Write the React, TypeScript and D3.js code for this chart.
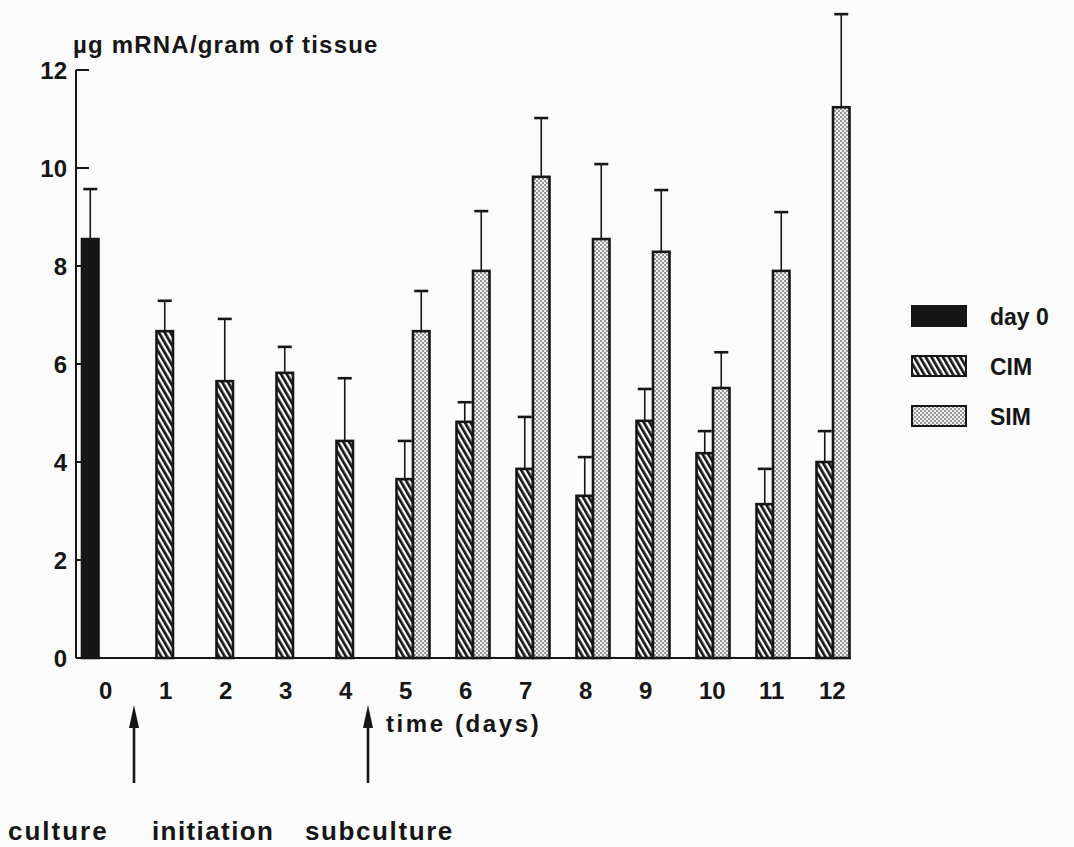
import React from "react";
import * as d3 from "d3";

// values (µg mRNA / gram of tissue)
const days = [0, 1, 2, 3, 4, 5, 6, 7, 8, 9, 10, 11, 12];
const day0Value = 8.55;
const day0Err = 1.02;
const cimDays = [1, 2, 3, 4, 5, 6, 7, 8, 9, 10, 11, 12];
const cimValues = [6.67, 5.65, 5.82, 4.43, 3.65, 4.82, 3.86, 3.31, 4.84, 4.18, 3.14, 4.0];
const cimErrors = [0.62, 1.27, 0.53, 1.28, 0.78, 0.4, 1.06, 0.79, 0.65, 0.45, 0.72, 0.63];
const simDays = [5, 6, 7, 8, 9, 10, 11, 12];
const simValues = [6.67, 7.9, 9.82, 8.55, 8.29, 5.51, 7.9, 11.24];
const simErrors = [0.82, 1.22, 1.2, 1.53, 1.26, 0.73, 1.2, 1.9];
const yTicks = [0, 2, 4, 6, 8, 10, 12];
const legendItems = ["day 0", "CIM", "SIM"];
const arrowDays = [0.35, 4.25];

const W = 1074;
const H = 847;
const FONT = "'Liberation Sans', Arial, Helvetica, sans-serif";
const INK = "#161616";

const App = () => {
  const y = d3.scaleLinear().domain([0, 12]).range([658, 70]);
  const x = d3.scaleLinear().domain([0, 12]).range([113, 833]);
  const bw = 16.5;
  const axisX = 76;
  const axisEnd = 851;

  const fills: Record<string, string> = {
    "day 0": INK,
    CIM: "url(#hatch)",
    SIM: "url(#dots)",
  };

  const bar = (key: string, x0: number, v: number, err: number, fill: string) => {
    const top = y(v);
    const cx = x0 + bw / 2;
    return (
      <g key={key}>
        <line x1={cx} x2={cx} y1={top} y2={y(v + err)} stroke={INK} strokeWidth={1.6} />
        <line x1={cx - 7} x2={cx + 7} y1={y(v + err)} y2={y(v + err)} stroke={INK} strokeWidth={2.6} />
        <rect x={x0} y={top} width={bw} height={y(0) - top} fill={fill} stroke={INK} strokeWidth={2.6} />
      </g>
    );
  };

  const bold = { fontFamily: FONT, fontWeight: "bold", fill: INK } as const;

  return (
    <div style={{ position: "absolute", left: 0, top: 0 }}>
      <svg width={W} height={H} style={{ display: "block", background: "#fbfbfb" }}>
        <defs>
          <pattern id="hatch" width={5} height={5} patternUnits="userSpaceOnUse" patternTransform="rotate(-30)">
            <rect width={5} height={5} fill="#fdfdfd" />
            <rect width={2.7} height={5} fill={INK} />
          </pattern>
          <pattern id="dots" width={4} height={4} patternUnits="userSpaceOnUse">
            <rect width={4} height={4} fill="#f2f2f2" />
            <circle cx={1} cy={1} r={1} fill="#7a7a7a" />
            <circle cx={3} cy={3} r={1} fill="#7a7a7a" />
          </pattern>
        </defs>

        {/* y axis */}
        <line x1={axisX} x2={axisX} y1={y(12)} y2={y(0)} stroke={INK} strokeWidth={2} />
        {yTicks.map((t) => (
          <g key={t}>
            {t > 0 && <line x1={axisX} x2={axisX + 13} y1={y(t)} y2={y(t)} stroke={INK} strokeWidth={2} />}
            <text x={67} y={y(t)} textAnchor="end" dominantBaseline="central" fontSize={24} {...bold}>
              {t}
            </text>
          </g>
        ))}
        <text x={73} y={53} fontSize={24} letterSpacing={1.2} {...bold}>
          µg mRNA/gram of tissue
        </text>

        {/* bars */}
        {bar("d0", x(0) - 31, day0Value, day0Err, fills["day 0"])}
        {cimDays.map((d, i) => bar("c" + d, x(d) - bw, cimValues[i], cimErrors[i], fills.CIM))}
        {simDays.map((d, i) => bar("s" + d, x(d), simValues[i], simErrors[i], fills.SIM))}

        {/* x axis */}
        <line x1={axisX} x2={axisEnd} y1={y(0)} y2={y(0)} stroke={INK} strokeWidth={2} />
        {days.map((d) => (
          <text key={d} x={x(d) - 14} y={690} dominantBaseline="central" fontSize={24} {...bold}>
            {d}
          </text>
        ))}
        <text x={386} y={723} dominantBaseline="central" fontSize={24} letterSpacing={2.6} {...bold}>
          time (days)
        </text>

        {/* arrows */}
        {arrowDays.map((d) => {
          const ax = x(d);
          return (
            <g key={d}>
              <line x1={ax} x2={ax} y1={725} y2={783} stroke={INK} strokeWidth={2.6} />
              <path d={`M${ax},705 L${ax - 5},728 L${ax + 5},728 Z`} fill={INK} />
            </g>
          );
        })}
        <text x={8} y={840} fontSize={26} letterSpacing={2} {...bold}>
          culture
        </text>
        <text x={152} y={840} fontSize={26} letterSpacing={1.4} {...bold}>
          initiation
        </text>
        <text x={305} y={840} fontSize={26} letterSpacing={1.6} {...bold}>
          subculture
        </text>

        {/* legend */}
        {legendItems.map((k, i) => (
          <g key={k} transform={`translate(912, ${306 + i * 50})`}>
            <rect width={54} height={20} fill={fills[k]} stroke={INK} strokeWidth={2} />
            <text x={78} y={11} dominantBaseline="central" fontSize={23} {...bold}>
              {k}
            </text>
          </g>
        ))}
      </svg>
    </div>
  );
};

export default App;
